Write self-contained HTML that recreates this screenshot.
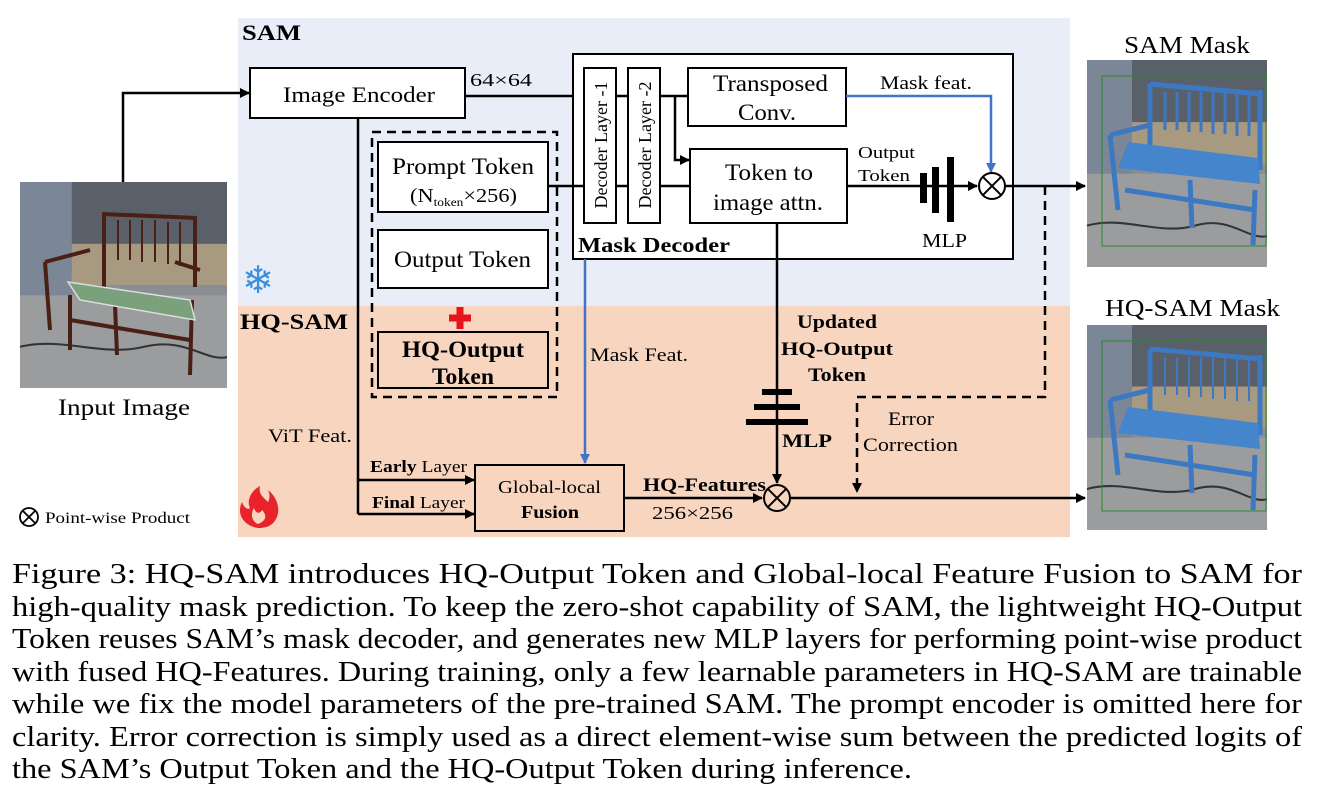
<!DOCTYPE html>
<html><head><meta charset="utf-8"><style>
html,body{margin:0;padding:0;background:#fff;}
svg{display:block;}
text{font-family:"Liberation Serif",serif;fill:#000;}
</style></head><body>
<svg width="1317" height="805" viewBox="0 0 1317 805" xmlns="http://www.w3.org/2000/svg">
<defs>
<marker id="ah" markerWidth="10" markerHeight="10" refX="9" refY="5" orient="auto" markerUnits="userSpaceOnUse"><path d="M0,0 L10,5 L0,10 z" fill="#000"/></marker>
<marker id="ahb" markerWidth="10" markerHeight="10" refX="9" refY="5" orient="auto" markerUnits="userSpaceOnUse"><path d="M0,0 L10,5 L0,10 z" fill="#4472c4"/></marker>
<g id="scene">
<rect x="0" y="0" width="200" height="200" fill="#8a8d92"/>
<rect x="0" y="0" width="200" height="85" fill="#5a606a"/>
<rect x="0" y="0" width="50" height="110" fill="#7b8797"/>
<rect x="50" y="60" width="150" height="40" fill="#a89a80"/>
<rect x="0" y="110" width="200" height="90" fill="#9a9c9e"/>
<path d="M0,160 C40,150 80,170 120,160 S180,175 200,170" stroke="#333" stroke-width="2" fill="none"/>
</g>
</defs>

<rect x="238" y="18" width="832" height="288" fill="#e9edf7"/>
<rect x="238" y="306" width="832" height="231" fill="#f8d5bf"/>

<!-- Input image -->
<use href="#scene" transform="translate(20,182) scale(1.035,1.03)"/>
<g stroke="#4a1f14" stroke-width="4" fill="none">
<path d="M102,214 L197,218 M104,214 L104,292 M195,218 L195,287 M45,262 L90,250 M175,262 L200,270 M45,262 L50,330 M70,295 L70,350 M115,305 L117,355 M192,300 L190,375 M70,320 L190,340"/>
</g>
<g stroke="#4a1f14" stroke-width="2">
<path d="M118,220 V260 M130,220 V260 M142,220 V262 M155,220 V262 M168,222 V264 M180,222 V266"/>
</g>
<path d="M68,282 L190,300 L195,320 L80,300 Z" fill="#7aa07c" stroke="#ddd" stroke-width="1.5"/>

<!-- SAM mask image -->
<use href="#scene" transform="translate(1087,60) scale(0.9,1.035)"/>
<g stroke="#3d78c2" stroke-width="5" fill="none">
<path d="M1150,84 L1262,94 M1150,84 L1150,160 M1260,90 L1260,170 M1110,135 L1150,125 M1110,135 L1118,210 M1190,180 L1192,228 M1255,190 L1253,245 M1125,190 L1255,210"/>
</g>
<g stroke="#3d78c2" stroke-width="3"><path d="M1165,92 V130 M1177,92 V130 M1189,92 V132 M1201,92 V132 M1213,92 V134 M1225,92 V134 M1237,92 V136 M1249,92 V136"/></g>
<path d="M1128,142 L1258,158 L1260,184 L1118,168 Z" fill="#4585cc"/>
<rect x="1102" y="76" width="164" height="170" fill="none" stroke="#2a8a2a" stroke-width="1"/>

<!-- HQ-SAM mask image -->
<use href="#scene" transform="translate(1087,325) scale(0.9,1.025)"/>
<g stroke="#3d78c2" stroke-width="5" fill="none">
<path d="M1150,349 L1262,359 M1150,349 L1150,425 M1260,355 L1260,435 M1110,400 L1150,390 M1110,400 L1118,475 M1190,445 L1192,493 M1255,455 L1253,510 M1125,455 L1255,475"/>
</g>
<g stroke="#3d78c2" stroke-width="2"><path d="M1165,357 V395 M1177,357 V395 M1189,357 V397 M1201,357 V397 M1213,357 V399 M1225,357 V399 M1237,357 V401 M1249,357 V401"/></g>
<path d="M1128,407 L1258,423 L1260,449 L1118,433 Z" fill="#4585cc"/>
<rect x="1102" y="341" width="164" height="170" fill="none" stroke="#2a8a2a" stroke-width="1"/>

<g lengthAdjust="spacingAndGlyphs">
<text x="58" y="415" font-size="23" textLength="132" lengthAdjust="spacingAndGlyphs">Input Image</text>
<text x="1124" y="53" font-size="24" textLength="126" lengthAdjust="spacingAndGlyphs">SAM Mask</text>
<text x="1105" y="316" font-size="24" textLength="175" lengthAdjust="spacingAndGlyphs">HQ-SAM Mask</text>
</g>
<circle cx="29" cy="517" r="9" fill="none" stroke="#000" stroke-width="1.8"/>
<path d="M22.6,510.6 L35.4,523.4 M35.4,510.6 L22.6,523.4" stroke="#000" stroke-width="1.8"/>
<text x="45" y="523" font-size="16" textLength="145" lengthAdjust="spacingAndGlyphs">Point-wise Product</text>

<text x="242" y="40" font-size="22" font-weight="bold" textLength="59" lengthAdjust="spacingAndGlyphs">SAM</text>
<text x="240" y="329" font-size="22" font-weight="bold" textLength="108" lengthAdjust="spacingAndGlyphs">HQ-SAM</text>
<text x="258" y="293" font-size="38" text-anchor="middle" style="fill:#3b8fe0" font-family="DejaVu Sans,sans-serif">❄</text>
<path d="M258,528 C244,526 236,514 242,502 C244,508 248,510 250,508 C246,500 252,490 260,486 C258,494 264,498 268,502 C270,498 270,494 268,490 C278,498 282,512 274,522 C270,527 264,528 258,528 Z" fill="#e8232b"/>
<path d="M258,524 C252,522 250,514 254,508 C256,514 260,514 262,510 C266,514 268,520 258,524 Z" fill="#f8d5bf"/>

<!-- Image encoder -->
<rect x="250" y="68" width="215" height="50" fill="#fff" stroke="#000" stroke-width="2"/>
<text x="283" y="102" font-size="22" textLength="152" lengthAdjust="spacingAndGlyphs">Image Encoder</text>
<path d="M123,182 V93 H249" stroke="#000" stroke-width="2.5" fill="none" marker-end="url(#ah)"/>
<text x="470" y="86" font-size="18" textLength="62" lengthAdjust="spacingAndGlyphs">64×64</text>
<path d="M465,96 H584" stroke="#000" stroke-width="2.5"/>

<!-- Mask decoder -->
<rect x="573" y="54" width="440" height="205" fill="#fff" stroke="#000" stroke-width="2"/>
<rect x="584" y="68" width="32" height="155" fill="#fff" stroke="#000" stroke-width="2"/>
<rect x="628" y="68" width="32" height="155" fill="#fff" stroke="#000" stroke-width="2"/>
<text transform="translate(607,145) rotate(-90)" font-size="18" text-anchor="middle">Decoder Layer -1</text>
<text transform="translate(651,145) rotate(-90)" font-size="18" text-anchor="middle">Decoder Layer -2</text>
<path d="M616,96 H628 M660,96 H688" stroke="#000" stroke-width="2.5"/>
<path d="M548,186 H584 M616,186 H628 M660,186 H690" stroke="#000" stroke-width="2.5"/>
<path d="M675,96 V160 H689" stroke="#000" stroke-width="2.5" fill="none" marker-end="url(#ah)"/>
<rect x="688" y="68" width="158" height="58" fill="#fff" stroke="#000" stroke-width="2"/>
<text x="713" y="91" font-size="23" textLength="115" lengthAdjust="spacingAndGlyphs">Transposed</text>
<text x="738" y="120" font-size="23" textLength="58" lengthAdjust="spacingAndGlyphs">Conv.</text>
<rect x="690" y="149" width="157" height="74" fill="#fff" stroke="#000" stroke-width="2"/>
<text x="725" y="180" font-size="23" textLength="88" lengthAdjust="spacingAndGlyphs">Token to</text>
<text x="713" y="210" font-size="23" textLength="110" lengthAdjust="spacingAndGlyphs">image attn.</text>
<path d="M846,96 H991 V172" stroke="#4472c4" stroke-width="2.5" fill="none" marker-end="url(#ahb)"/>
<text x="880" y="89" font-size="19" textLength="92" lengthAdjust="spacingAndGlyphs">Mask feat.</text>
<text x="858" y="158" font-size="17" textLength="57" lengthAdjust="spacingAndGlyphs">Output</text>
<text x="858" y="181" font-size="17" textLength="52" lengthAdjust="spacingAndGlyphs">Token</text>
<path d="M847,186 H977" stroke="#000" stroke-width="2.5" marker-end="url(#ah)"/>
<rect x="920" y="173" width="7" height="30" fill="#000"/>
<rect x="932" y="167" width="7" height="46" fill="#000"/>
<rect x="947" y="157" width="7" height="65" fill="#000"/>
<text x="922" y="247" font-size="20" textLength="45" lengthAdjust="spacingAndGlyphs">MLP</text>
<circle cx="992" cy="186" r="13" fill="#fff" stroke="#000" stroke-width="2"/>
<path d="M982.8,176.8 L1001.2,195.2 M1001.2,176.8 L982.8,195.2" stroke="#000" stroke-width="2"/>
<path d="M1005,186 H1085" stroke="#000" stroke-width="2.5" marker-end="url(#ah)"/>
<text x="578" y="252" font-size="21" font-weight="bold" textLength="152" lengthAdjust="spacingAndGlyphs">Mask Decoder</text>

<!-- token dashed box -->
<rect x="372" y="132" width="185" height="265" fill="none" stroke="#000" stroke-width="2.5" stroke-dasharray="9,6"/>
<rect x="378" y="142" width="170" height="70" fill="#fff" stroke="#000" stroke-width="2"/>
<text x="392" y="174" font-size="23" textLength="142" lengthAdjust="spacingAndGlyphs">Prompt Token</text>
<text x="410" y="202" font-size="20" textLength="107" lengthAdjust="spacingAndGlyphs">(N<tspan font-size="12" dy="4">token</tspan><tspan dy="-4">×256)</tspan></text>
<rect x="378" y="230" width="170" height="58" fill="#fff" stroke="#000" stroke-width="2"/>
<text x="394" y="267" font-size="23" textLength="137" lengthAdjust="spacingAndGlyphs">Output Token</text>
<path d="M460,307 V329 M449,318 H471" stroke="#e8141b" stroke-width="7"/>
<rect x="378" y="332" width="170" height="56" fill="none" stroke="#000" stroke-width="2"/>
<text x="402" y="357" font-size="23" font-weight="bold" textLength="122" lengthAdjust="spacingAndGlyphs">HQ-Output</text>
<text x="432" y="384" font-size="23" font-weight="bold" textLength="62" lengthAdjust="spacingAndGlyphs">Token</text>

<!-- ViT feat -->
<path d="M358,118 V514" stroke="#000" stroke-width="2.5"/>
<path d="M358,480 H474" stroke="#000" stroke-width="2.5" marker-end="url(#ah)"/>
<path d="M358,514 H474" stroke="#000" stroke-width="2.5" marker-end="url(#ah)"/>
<text x="268" y="442" font-size="19" textLength="84" lengthAdjust="spacingAndGlyphs">ViT Feat.</text>
<text x="370" y="472" font-size="17" textLength="97" lengthAdjust="spacingAndGlyphs"><tspan font-weight="bold">Early</tspan> Layer</text>
<text x="372" y="508" font-size="17" textLength="93" lengthAdjust="spacingAndGlyphs"><tspan font-weight="bold">Final</tspan> Layer</text>
<rect x="475" y="465" width="149" height="66" fill="none" stroke="#000" stroke-width="2"/>
<text x="498" y="493" font-size="18" textLength="103" lengthAdjust="spacingAndGlyphs">Global-local</text>
<text x="521" y="518" font-size="18" font-weight="bold" textLength="58" lengthAdjust="spacingAndGlyphs">Fusion</text>

<path d="M585,259 V463" stroke="#4472c4" stroke-width="2.5" marker-end="url(#ahb)"/>
<text x="590" y="361" font-size="19" textLength="98" lengthAdjust="spacingAndGlyphs">Mask Feat.</text>

<path d="M777,223 V483" stroke="#000" stroke-width="2.5" marker-end="url(#ah)"/>
<rect x="762" y="389" width="30" height="6" fill="#000"/>
<rect x="754" y="404" width="46" height="6" fill="#000"/>
<rect x="746" y="419" width="62" height="6" fill="#000"/>
<text x="782" y="447" font-size="19" font-weight="bold" textLength="50" lengthAdjust="spacingAndGlyphs">MLP</text>
<text x="797" y="328" font-size="19" font-weight="bold" textLength="80" lengthAdjust="spacingAndGlyphs">Updated</text>
<text x="781" y="355" font-size="19" font-weight="bold" textLength="112" lengthAdjust="spacingAndGlyphs">HQ-Output</text>
<text x="808" y="381" font-size="19" font-weight="bold" textLength="58" lengthAdjust="spacingAndGlyphs">Token</text>

<path d="M624,498 H762" stroke="#000" stroke-width="2.5" marker-end="url(#ah)"/>
<text x="643" y="491" font-size="19" font-weight="bold" textLength="123" lengthAdjust="spacingAndGlyphs">HQ-Features</text>
<text x="652" y="519" font-size="18" textLength="81" lengthAdjust="spacingAndGlyphs">256×256</text>
<circle cx="777" cy="498" r="13" fill="none" stroke="#000" stroke-width="2"/>
<path d="M767.8,488.8 L786.2,507.2 M786.2,488.8 L767.8,507.2" stroke="#000" stroke-width="2"/>
<path d="M790,498 H1085" stroke="#000" stroke-width="2.5" marker-end="url(#ah)"/>

<path d="M1045,186 V397 H857 V492" stroke="#000" stroke-width="2.5" fill="none" stroke-dasharray="9,6" marker-end="url(#ah)"/>
<text x="888" y="425" font-size="19" textLength="46" lengthAdjust="spacingAndGlyphs">Error</text>
<text x="863" y="451" font-size="19" textLength="95" lengthAdjust="spacingAndGlyphs">Correction</text>

<!-- caption -->
<g font-size="28">
<text x="12" y="583" textLength="1290" lengthAdjust="spacingAndGlyphs">Figure 3: HQ-SAM introduces HQ-Output Token and Global-local Feature Fusion to SAM for</text>
<text x="12" y="616" textLength="1290" lengthAdjust="spacingAndGlyphs">high-quality mask prediction. To keep the zero-shot capability of SAM, the lightweight HQ-Output</text>
<text x="12" y="648" textLength="1290" lengthAdjust="spacingAndGlyphs">Token reuses SAM’s mask decoder, and generates new MLP layers for performing point-wise product</text>
<text x="12" y="681" textLength="1290" lengthAdjust="spacingAndGlyphs">with fused HQ-Features. During training, only a few learnable parameters in HQ-SAM are trainable</text>
<text x="12" y="713" textLength="1290" lengthAdjust="spacingAndGlyphs">while we fix the model parameters of the pre-trained SAM. The prompt encoder is omitted here for</text>
<text x="12" y="746" textLength="1290" lengthAdjust="spacingAndGlyphs">clarity. Error correction is simply used as a direct element-wise sum between the predicted logits of</text>
<text x="12" y="778" textLength="900" lengthAdjust="spacingAndGlyphs">the SAM’s Output Token and the HQ-Output Token during inference.</text>
</g>
</svg>
</body></html>
